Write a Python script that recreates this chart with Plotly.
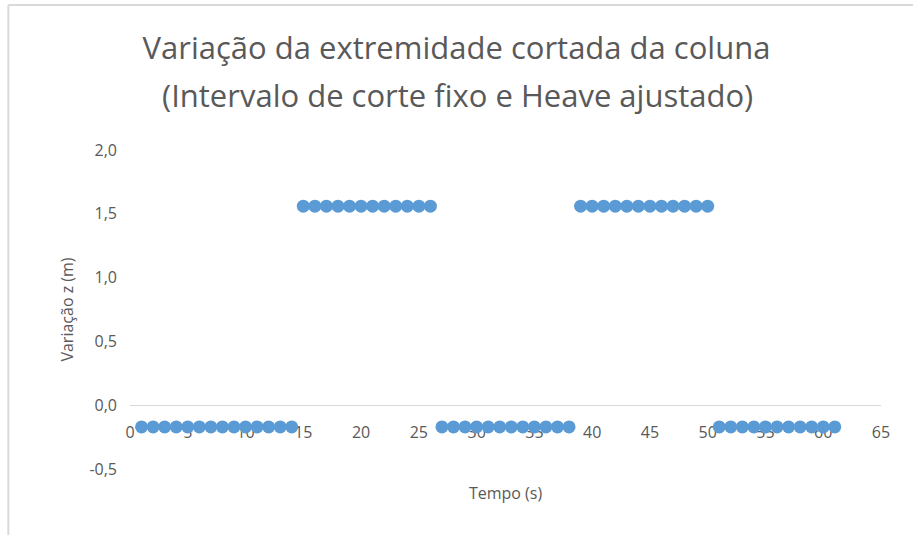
import plotly.graph_objects as go

# tempo (s) e variação z (m)
tempo_baixo_1 = list(range(1, 15))
tempo_alto_1 = list(range(15, 27))
tempo_baixo_2 = list(range(27, 39))
tempo_alto_2 = list(range(39, 51))
tempo_baixo_3 = list(range(51, 62))

z_baixo = -0.17
z_alto = 1.56

tempo = tempo_baixo_1 + tempo_alto_1 + tempo_baixo_2 + tempo_alto_2 + tempo_baixo_3
variacao_z = (
    [z_baixo] * len(tempo_baixo_1)
    + [z_alto] * len(tempo_alto_1)
    + [z_baixo] * len(tempo_baixo_2)
    + [z_alto] * len(tempo_alto_2)
    + [z_baixo] * len(tempo_baixo_3)
)

y_ticks = [-0.5, 0.0, 0.5, 1.0, 1.5, 2.0]
y_tick_labels = ["-0,5", "0,0", "0,5", "1,0", "1,5", "2,0"]

titulo_1 = "Variação da extremidade cortada da coluna"
titulo_2 = "(Intervalo de corte fixo e Heave ajustado)"

cinza = "#595959"
borda = "#d9d9d9"
fonte = "Open Sans"

fig = go.Figure()

fig.add_trace(go.Scatter(
    x=tempo,
    y=variacao_z,
    mode="markers",
    marker=dict(color="#5B9BD5", size=13),
    showlegend=False,
))

fig.update_layout(
    width=913,
    height=535,
    margin=dict(l=130, r=32, t=150, b=66),
    paper_bgcolor="white",
    plot_bgcolor="white",
    font=dict(family=fonte, color=cinza, size=16),
    title=dict(
        text=titulo_1,
        x=0.5,
        xanchor="center",
        y=1 - 48 / 535,
        yanchor="middle",
        font=dict(family=fonte, size=31, color=cinza),
    ),
    xaxis=dict(
        range=[0, 65],
        dtick=5,
        showgrid=False,
        zeroline=False,
        showline=True,
        linecolor=borda,
        linewidth=1,
        anchor="free",
        position=0.2,  # eixo x cruza em y = 0
        layer="below traces",
        ticklabelstandoff=13,
        title=dict(text="Tempo (s)", standoff=45, font=dict(size=16, color=cinza)),
    ),
    yaxis=dict(
        range=[-0.5, 2.0],
        tickvals=y_ticks,
        ticktext=y_tick_labels,
        showgrid=False,
        zeroline=False,
        showline=False,
        ticklabelstandoff=12,
        title=dict(text="Variação z (m)", standoff=11, font=dict(size=16, color=cinza)),
    ),
    shapes=[
        # moldura do gráfico (topo e esquerda)
        dict(type="line", xref="paper", yref="paper",
             x0=-0.162, x1=1.05, y0=1.4545, y1=1.4545,
             line=dict(color=borda, width=2)),
        dict(type="line", xref="paper", yref="paper",
             x0=-0.162, x1=-0.162, y0=1.4545, y1=-0.3,
             line=dict(color=borda, width=2)),
    ],
)

# segunda linha do título, centrada na figura como a primeira
fig.add_annotation(
    text=titulo_2,
    xref="paper", yref="paper",
    x=(457 - 130) / 751, y=(469 - 95) / 319,
    xanchor="center", yanchor="middle",
    showarrow=False,
    font=dict(family=fonte, size=31, color=cinza),
)

# sem margem do body, para a figura ocupar a janela a partir de (0, 0)
fig.write_html(
    "out.html",
    config={"displayModeBar": False},
    post_script="document.body.style.margin = '0';",
)
